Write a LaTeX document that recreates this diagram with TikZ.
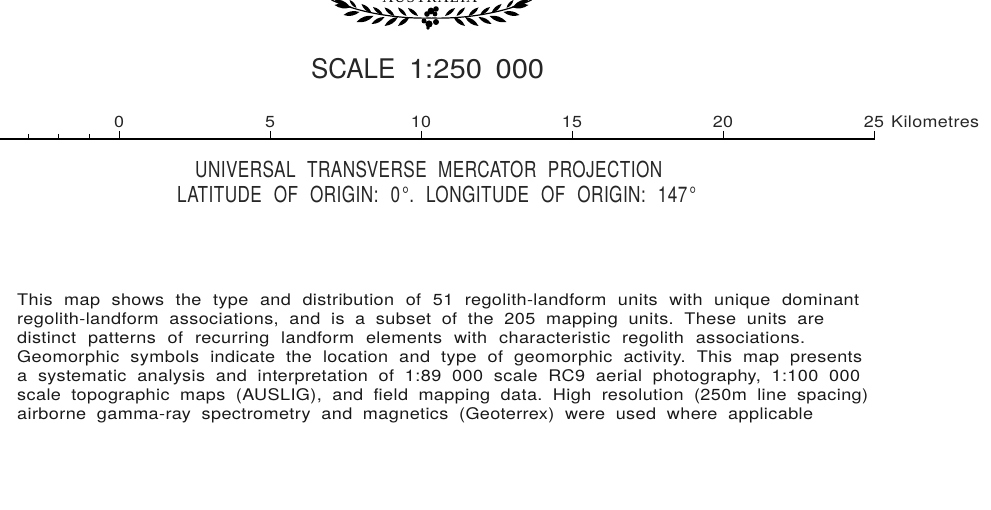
\documentclass[tikz,border=0pt]{standalone}
\usepackage{fontspec}
\setmainfont{TeX Gyre Heros}
\newfontfamily\narrowfont[FakeStretch=0.78,LetterSpace=2]{TeX Gyre Heros}
\newfontfamily\widefont[FakeStretch=1.12,LetterSpace=2.5]{TeX Gyre Heros}
\newfontfamily\notefont[FakeStretch=1.13,LetterSpace=2.5]{TeX Gyre Heros}
\newfontfamily\titlefont[FakeStretch=0.96]{TeX Gyre Heros}
\newfontfamily\titledigits[FakeStretch=1.08]{TeX Gyre Heros}
\newfontfamily\crestfont[LetterSpace=8]{Liberation Serif}
\newcommand{\fitline}[2]{\makebox[#1pt][s]{\frenchspacing #2}}
\begin{document}
\begin{tikzpicture}[x=1pt,y=-1pt]

    \tikzset{
      scalelabel/.style={
        anchor = base,
        inner sep=0pt,
        text=black!85,
        font=\widefont\fontsize{16}{18}\selectfont,
      },
      scaletitle/.style={
        anchor = base west,
        inner sep=0pt,
        text=black!85,
        font=\titlefont\fontsize{27}{30}\selectfont,
      },
      projline/.style={
        anchor = base west,
        inner sep=0pt,
        text=black!85,
        font=\narrowfont\fontsize{22}{24}\selectfont,
      },
      noteline/.style={
        anchor = base west,
        inner sep=0pt,
        text=black!90,
        font=\notefont\fontsize{16}{19}\selectfont,
      },
    }
    \useasboundingbox (0,0) rectangle (991,510);
    \clip (0,0) rectangle (991,510);

	\draw[color ={black},line width = 1.6] (0,139)--(874.7,139);
	\draw[color ={black},line width = 0.8] (28.5,134)--(28.5,139);
	\draw[color ={black},line width = 0.8] (58.7,134)--(58.7,139);
	\draw[color ={black},line width = 0.8] (89,134)--(89,139);
	\draw[color ={black},line width = 0.8] (119,131)--(119,139);
	\draw[color ={black},line width = 0.8] (270,131)--(270,139);
	\draw[color ={black},line width = 0.8] (421,131)--(421,139);
	\draw[color ={black},line width = 0.8] (572,131)--(572,139);
	\draw[color ={black},line width = 0.8] (723,131)--(723,139);
	\draw[color ={black},line width = 0.8] (874,131)--(874,139);
	\draw (119,128) node[scalelabel] (label0) {0};
	\draw (270,128) node[scalelabel] (label5) {5};
	\draw (421,128) node[scalelabel] (label10) {10};
	\draw (572,128) node[scalelabel] (label15) {15};
	\draw (723,128) node[scalelabel] (label20) {20};
	\draw (874,128) node[scalelabel] (label25) {25};
	\draw (891,128) node[scalelabel,anchor = base west] (labelunit) {Kilometres};

	\draw (311,79) node[scaletitle] (scaletitle) {\fitline{233}{SCALE {\titledigits 1:250} {\titledigits 000}}};
	\draw (195,178) node[projline] (projone) {\fitline{467}{UNIVERSAL TRANSVERSE MERCATOR PROJECTION}};
	\draw (177,203) node[projline] (projtwo) {\fitline{519}{LATITUDE OF ORIGIN: 0\kern2pt°. LONGITUDE OF ORIGIN: 147\kern2pt°}};

	\draw (17,306) node[noteline] (noteone) {\fitline{842}{This map shows the type and distribution of 51 regolith-landform units with unique dominant}};
	\draw (17,325) node[noteline] (notetwo) {\fitline{807}{regolith-landform associations, and is a subset of the 205 mapping units. These units are}};
	\draw (17,344) node[noteline] (notethree) {\fitline{788}{distinct patterns of recurring landform elements with characteristic regolith associations.}};
	\draw (17,363) node[noteline] (notefour) {\fitline{845}{Geomorphic symbols indicate the location and type of geomorphic activity. This map presents}};
	\draw (17,382) node[noteline] (notefive) {\fitline{843}{a systematic analysis and interpretation of 1:89 000 scale RC9 aerial photography, 1:100 000}};
	\draw (17,401) node[noteline] (notesix) {\fitline{851}{scale topographic maps (AUSLIG), and field mapping data. High resolution (250m line spacing)}};
	\draw (17,420) node[noteline] (noteseven) {\fitline{796}{airborne gamma-ray spectrometry and magnetics (Geoterrex) were used where applicable}};

	\draw (430,3) node[anchor = base,inner sep=0pt,font=\crestfont\fontsize{15}{15}\selectfont] (crestname) {AUSTRALIA};
	\foreach \side in {1,-1}{
	\begin{scope}[shift={(431.5,0)},xscale=\side]
		\draw[line width = 1.2] (0,18) .. controls (30,19) and (70,14) .. (100,0);
		\foreach \bx/\by/\tx/\ty in {13.5/16/23.5/8,25/16/33.5/7.5,37/16/47/7.5,48.5/15/58.5/7,60/13/70/4,75/8/82/0,83/5/97/0,
			22/17/33.5/26,33.5/17/47/26,47/17/60/24,58/16/75/22,72/12/88/15,80/7/97/5}{
			\fill (\bx,\by) to[bend left=28] (\tx,\ty) to[bend left=28] (\bx,\by);
		}
	\end{scope}
	}
	\fill (431,11) circle (3.4);
	\fill (436,9) circle (2.8);
	\fill (427,14) circle (2.8);
	\fill (435,14) circle (2.4);
	\fill (429,24) circle (3.6);
	\fill (436,22) circle (3);
	\fill (424,21) circle (2.5);
	\fill (428,28) circle (1.8);

\end{tikzpicture}
\end{document}
